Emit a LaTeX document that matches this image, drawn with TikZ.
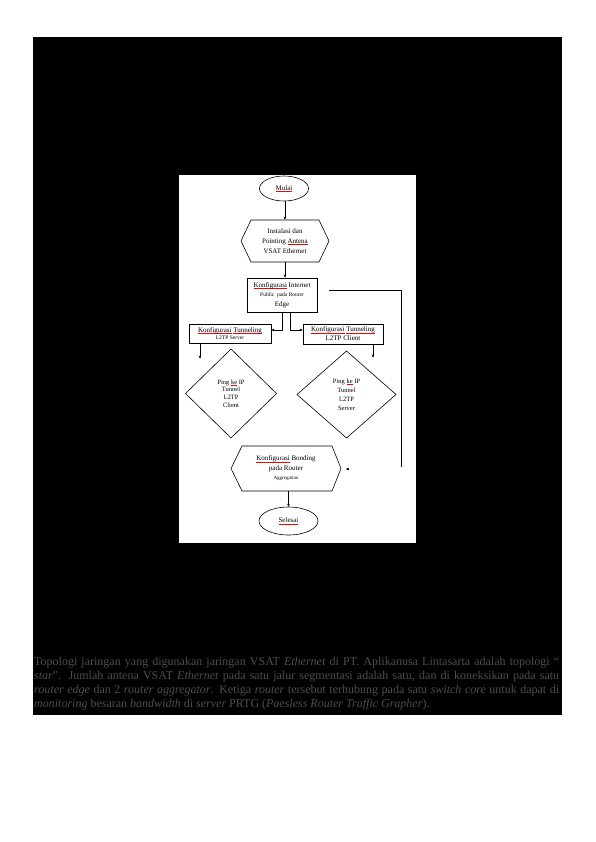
\documentclass[tikz,border=0pt]{standalone}
\usepackage{fontspec}
\setmainfont{Liberation Serif}
\usetikzlibrary{shapes.geometric,arrows.meta,calc}
\newsavebox\sqbox
\newcommand\sq[1]{\leavevmode\sbox\sqbox{#1}\rlap{\textcolor{red}{\rule[-1.4pt]{\wd\sqbox}{0.35pt}}}\usebox\sqbox}
\definecolor{ptext}{RGB}{78,78,78}
\begin{document}
\begin{tikzpicture}[x=1pt,y=-1pt,
  ln/.style={line width=0.6pt},
  arr/.style={ln,-{Latex[length=3.2pt,width=2.8pt]}},
  txt/.style={font=\fontsize{7}{10}\selectfont, align=center, inner sep=0pt, outer sep=0pt},
  term/.style={txt, ellipse, draw, ln},
  boxx/.style={txt, rectangle, draw, ln},
  hexa/.style={txt, rectangle},
  dec/.style={txt, diamond, draw, ln, aspect=1},
  para/.style={font=\fontsize{12}{13.8}\selectfont, text=ptext, inner sep=0pt, anchor=base west}
]
\useasboundingbox (0,0) rectangle (595,842);
\fill[white] (0,0) rectangle (595,842);
\fill[black] (33,37) rectangle (562,715);
\fill[white] (179,175) rectangle (416,543);

% terminals
\node[term, minimum width=49pt, minimum height=25pt] (mulai) at (284,188.5) {\sq{Mulai}};
\node[term, minimum width=59pt, minimum height=28pt] (selesai) at (288.5,521) {\sq{Selesai}};

% hexagon 1
\node[hexa, minimum width=88pt, minimum height=42pt] (inst) at (285,241)
  {Instalasi dan\\Pointing \sq{Antena}\\VSAT Ethernet};
\draw[ln] (inst.west) -- ([xshift=10pt]inst.north west) -- ([xshift=-10pt]inst.north east)
  -- (inst.east) -- ([xshift=-10pt]inst.south east) -- ([xshift=10pt]inst.south west) -- cycle;

% internet box
\node[boxx, minimum width=70pt, minimum height=34pt] (inet) at (282,295)
  {\sq{Konfigurasi} Internet\\[-0.5pt]{\fontsize{5.5}{10}\selectfont Public\ \ pada Router}\\[-0.5pt]Edge};

% tunneling boxes
\node[boxx, minimum width=82pt, minimum height=19pt, font=\fontsize{7}{7.5}\selectfont] (srv) at (230,333.5)
  {\sq{Konfigurasi} \sq{Tunneling}\\{\fontsize{5.5}{7.5}\selectfont L2TP Server}};
\node[boxx, minimum width=80pt, minimum height=20pt, font=\fontsize{7}{9}\selectfont] (cli) at (343,334)
  {\sq{Konfigurasi} \sq{Tunneling}\\L2TP Client};

% decisions
\node[dec, minimum width=91pt, minimum height=89pt, font=\fontsize{6.5}{7.8}\selectfont] (dl) at (231,393.5)
  {Ping \sq{ke} IP\\Tunnel\\L2TP\\Client};
\node[dec, minimum width=99pt, minimum height=87pt, font=\fontsize{6.5}{9}\selectfont] (dr) at (346.5,394.5)
  {Ping \sq{ke} IP\\Tunnel\\L2TP\\Server};

% hexagon 2
\node[hexa, minimum width=110pt, minimum height=45pt, font=\fontsize{7}{9.5}\selectfont] (bond) at (286,468.5)
  {\sq{Konfigurasi} Bonding\\pada Router\\{\fontsize{5}{9.5}\selectfont Aggregation}};
\draw[ln] (bond.west) -- ([xshift=11pt]bond.north west) -- ([xshift=-9pt]bond.north east)
  -- (bond.east) -- ([xshift=-9pt]bond.south east) -- ([xshift=11pt]bond.south west) -- cycle;

% connectors
\draw[arr] ([xshift=1pt]mulai.south) -- ([xshift=1pt]mulai.south |- inst.north);
\draw[arr] (inst.south) -- (inst.south |- inet.north);
\draw[arr] (inet.south) |- ([yshift=3.5pt]srv.east);
\draw[arr] ([xshift=8pt]inet.south) |- ([yshift=4pt]cli.west);
\draw[arr] ([xshift=-30pt]srv.south) -- ++(0,16);
\draw[arr] ([xshift=30pt]cli.south) -- ++(0,14);
\coordinate (fb0) at (329,290);
\coordinate (fb1) at (401,467);
\draw[ln] (fb0) -| (fb1);
\draw[arr] ([xshift=8pt,yshift=-0.5pt]bond.east) -- ([xshift=4.5pt,yshift=-0.5pt]bond.east);
\draw[arr] (selesai.north |- bond.south) -- (selesai.north);

% paragraph
\node[para] (p1) at (34,665) {\makebox[525pt][s]{Topologi jaringan yang digunakan jaringan VSAT \textit{Ethernet} di PT. Aplikanusa Lintasarta adalah topologi “}};
\node[para] (p2) at (34,679) {\makebox[525pt][s]{\textit{star}”. Jumlah antena VSAT \textit{Ethernet} pada satu jalur segmentasi adalah satu, dan di koneksikan pada satu}};
\node[para] (p3) at (34,693) {\makebox[525pt][s]{\textit{router edge} dan 2 \textit{router aggregator}. Ketiga \textit{router} tersebut terhubung pada satu \textit{switch core} untuk dapat di}};
\node[para] (p4) at (34,707) {\textit{monitoring} besaran \textit{bandwidth} di \textit{server} PRTG (\textit{Paesless Router Traffic Grapher}).};
\end{tikzpicture}
\end{document}
